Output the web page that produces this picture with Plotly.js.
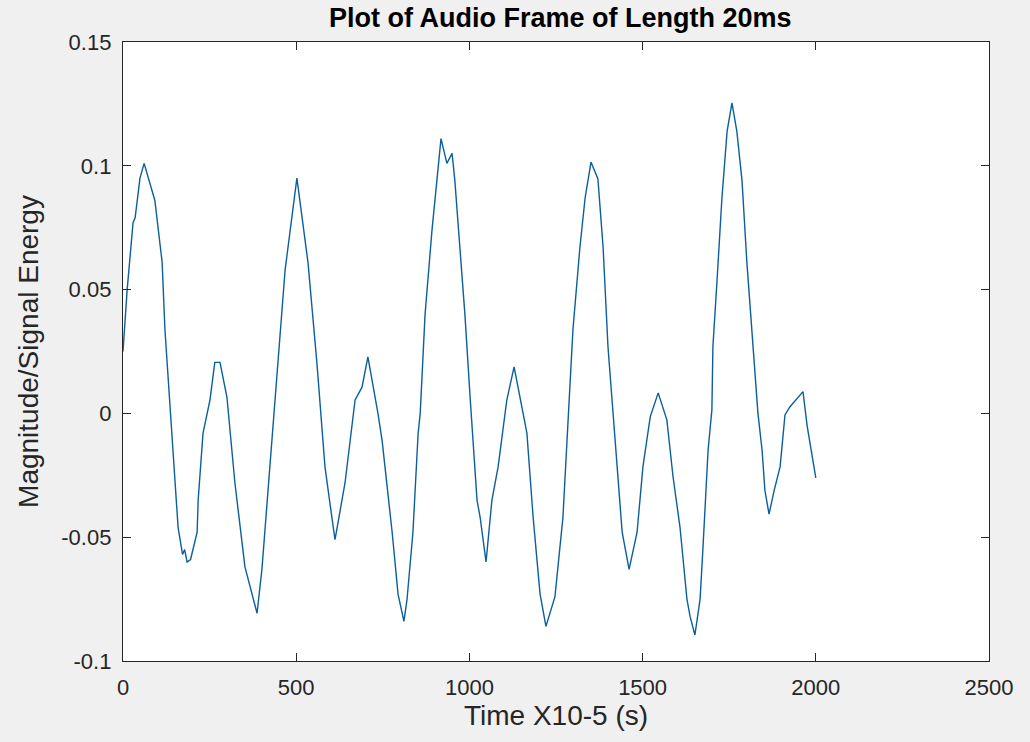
<!DOCTYPE html>
<html>
<head>
<meta charset="utf-8">
<script src="https://cdn.plot.ly/plotly-3.0.1.min.js"></script>
<style>html,body{margin:0;padding:0;background:#f0f0f0;}</style>
</head>
<body>
<div id="chart" style="width:1030px;height:742px;"></div>
<script>
const sampleIndex = [0,12,29,35,49,61,92,113,121,141,150,159,172,178,185,195,214,217,231,251,265,280,300,309,323,352,387,401,424,439,447,468,502,534,560,575,583,603,612,641,670,690,707,736,748,777,794,811,820,837,852,858,872,892,901,918,935,950,958,973,987,1002,1022,1031,1048,1065,1083,1108,1129,1155,1166,1184,1204,1221,1247,1270,1282,1290,1299,1319,1334,1351,1371,1386,1400,1415,1426,1441,1461,1484,1501,1522,1545,1570,1588,1608,1628,1637,1651,1666,1674,1689,1700,1703,1715,1729,1744,1758,1772,1787,1801,1816,1833,1845,1853,1865,1880,1897,1911,1925,1940,1963,1975,2000];
const magnitude = [0.025,0.05,0.077,0.079,0.095,0.101,0.086,0.061,0.034,-0.007,-0.027,-0.046,-0.057,-0.055,-0.060,-0.059,-0.048,-0.035,-0.008,0.0054,0.0206,0.0206,0.0066,-0.007,-0.028,-0.062,-0.0807,-0.063,-0.0215,0.0054,0.0228,0.058,0.095,0.061,0.020,-0.007,-0.0215,-0.042,-0.051,-0.028,0.0054,0.0106,0.0228,0.0,-0.011,-0.048,-0.073,-0.084,-0.075,-0.048,-0.008,0.0,0.040,0.074,0.087,0.111,0.101,0.105,0.094,0.067,0.040,0.0066,-0.035,-0.042,-0.060,-0.035,-0.0215,0.0054,0.0188,0.0,-0.008,-0.042,-0.073,-0.086,-0.074,-0.042,-0.008,0.0106,0.034,0.067,0.087,0.1015,0.0947,0.067,0.027,0.0,-0.0215,-0.048,-0.063,-0.048,-0.0215,-0.0014,0.0083,-0.0026,-0.0257,-0.046,-0.075,-0.082,-0.0895,-0.075,-0.055,-0.015,0.0014,0.027,0.054,0.087,0.114,0.1254,0.114,0.094,0.061,0.034,0.0,-0.015,-0.031,-0.0407,-0.031,-0.0215,-0.0006,0.0026,0.005,0.0088,-0.005,-0.026];
const xTicks = [0,500,1000,1500,2000,2500];
const yTicks = [-0.1,-0.05,0,0.05,0.1,0.15];
const yTickText = ['-0.1','-0.05','0','0.05','0.1','0.15'];

const font = 'Liberation Sans, Arial, sans-serif';
const trace = {
  x: sampleIndex, y: magnitude, type: 'scatter', mode: 'lines',
  line: {color: '#0a5f9c', width: 1.4}, hoverinfo: 'skip'
};
const axisCommon = {
  showgrid: false, zeroline: false, showline: true, mirror: 'ticks',
  linecolor: '#262626', linewidth: 1.2, ticks: 'inside', ticklen: 8,
  tickcolor: '#262626', tickwidth: 1,
  tickfont: {family: font, size: 22, color: '#262626'}
};
const layout = {
  width: 1030, height: 742, autosize: false,
  paper_bgcolor: '#f0f0f0', plot_bgcolor: '#ffffff',
  margin: {l: 123, r: 41, t: 42, b: 81},
  showlegend: false,
  title: {text: '<b>Plot of Audio Frame of Length 20ms</b>', font: {family: font, size: 27, color: '#000'},
          x: 0.505, xref: 'paper', xanchor: 'center', y: 0.976, yref: 'container', yanchor: 'middle'},
  xaxis: Object.assign({}, axisCommon, {
    range: [0, 2500], tickvals: xTicks, ticktext: xTicks.map(String), ticklabelstandoff: 6,
    title: {text: 'Time X10-5 (s)', font: {family: font, size: 28, color: '#262626'}, standoff: 6}
  }),
  yaxis: Object.assign({}, axisCommon, {
    range: [-0.1, 0.15], tickvals: yTicks, ticktext: yTickText, ticklabelstandoff: 6,
    title: {text: 'Magnitude/Signal Energy', font: {family: font, size: 28, color: '#262626'}, standoff: 14}
  })
};
Plotly.newPlot('chart', [trace], layout, {staticPlot: true, displayModeBar: false});
</script>
</body>
</html>
